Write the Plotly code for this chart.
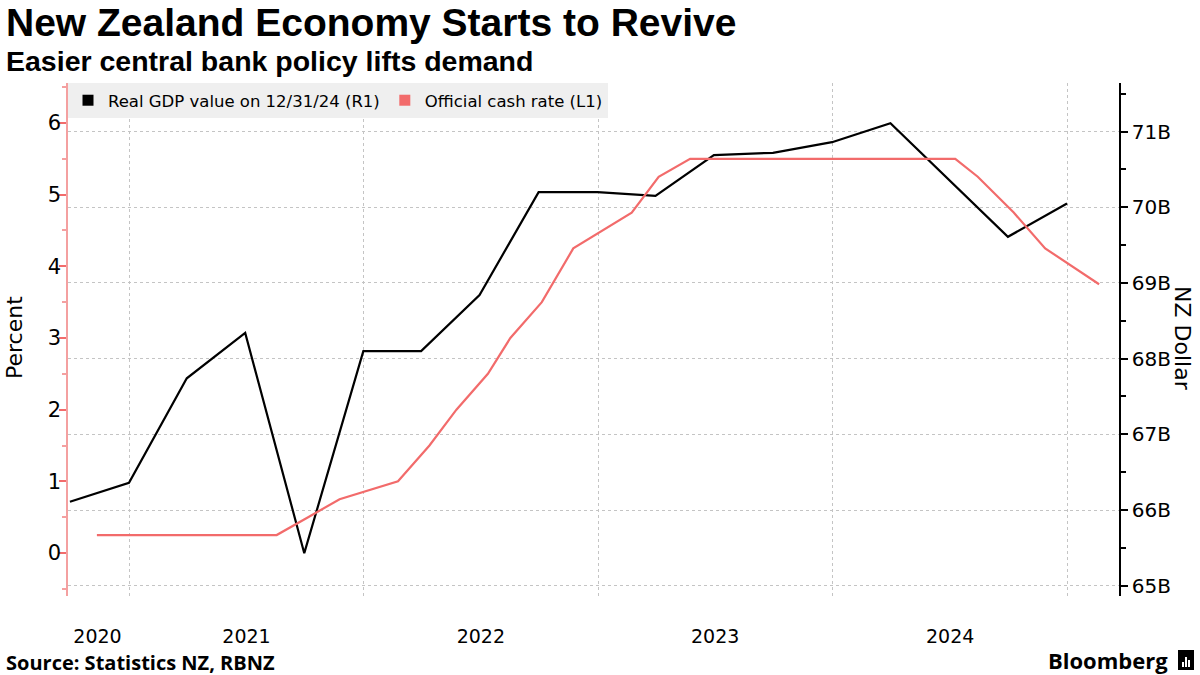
import plotly.graph_objects as go

# ---------------- data ----------------
gdp_dates = ["2020-09-30", "2020-12-31", "2021-03-31", "2021-06-30", "2021-09-30",
             "2021-12-31", "2022-03-31", "2022-06-30", "2022-09-30", "2022-12-31",
             "2023-03-31", "2023-06-30", "2023-09-30", "2023-12-31", "2024-03-31",
             "2024-06-30", "2024-09-30", "2024-12-31"]
gdp_values = [66.11, 66.36, 67.74, 68.34, 65.43, 68.10, 68.10, 68.84, 70.20, 70.20,
              70.15, 70.69, 70.72, 70.86, 71.11, 70.37, 69.61, 70.05]

ocr_dates = ["2020-11-11", "2021-02-24", "2021-04-14", "2021-05-26", "2021-07-14",
             "2021-08-18", "2021-10-06", "2021-11-24", "2022-02-23", "2022-04-13",
             "2022-05-25", "2022-07-13", "2022-08-17", "2022-10-05", "2022-11-23",
             "2023-02-22", "2023-04-05", "2023-05-24", "2023-07-12", "2023-08-16",
             "2023-10-04", "2023-11-29", "2024-02-28", "2024-04-10", "2024-05-22",
             "2024-07-10", "2024-08-14", "2024-10-09", "2024-11-27", "2025-02-19"]
ocr_values = [0.25, 0.25, 0.25, 0.25, 0.25, 0.25, 0.50, 0.75, 1.00, 1.50,
              2.00, 2.50, 3.00, 3.50, 4.25, 4.75, 5.25, 5.50, 5.50, 5.50,
              5.50, 5.50, 5.50, 5.50, 5.50, 5.50, 5.25, 4.75, 4.25, 3.75]

year_starts = ["2021-01-01", "2022-01-01", "2023-01-01", "2024-01-01", "2025-01-01"]
x_label_pos = ["2020-11-12", "2021-07-02", "2022-07-02", "2023-07-02", "2024-07-02"]
x_labels = ["2020", "2021", "2022", "2023", "2024"]

gdp_ticks = [65, 66, 67, 68, 69, 70, 71]
gdp_tick_text = ["65B", "66B", "67B", "68B", "69B", "70B", "71B"]
ocr_ticks = [0, 1, 2, 3, 4, 5, 6]
ocr_tick_text = ["0", "1", "2", "3", "4", "5", "6"]

gdp_name = "Real GDP value on 12/31/24 (R1)"
ocr_name = "Official cash rate (L1)"

title = "New Zealand Economy Starts to Revive"
subtitle = "Easier central bank policy lifts demand"
source = "Source: Statistics NZ, RBNZ"

# ---------------- style ----------------
BLACK = "#000000"
RED = "#f26b6b"
AXRED = "#f4a0a0"
GRID = "#c4c4c4"
FONT = "DejaVu Sans"
TFONT = "Open Sans"
HFONT = "Liberation Sans"

fig = go.Figure()

fig.add_trace(go.Scatter(x=gdp_dates, y=gdp_values, mode="lines", name=gdp_name,
                         line=dict(color=BLACK, width=2.2), yaxis="y", showlegend=False))
fig.add_trace(go.Scatter(x=ocr_dates, y=ocr_values, mode="lines", name=ocr_name,
                         line=dict(color=RED, width=2.2), yaxis="y2", showlegend=False))
# legend entries with square keys
fig.add_trace(go.Scatter(x=[None], y=[None], mode="markers", name=gdp_name,
                         marker=dict(symbol="square", size=11, color=BLACK), yaxis="y"))
fig.add_trace(go.Scatter(x=[None], y=[None], mode="markers", name=ocr_name,
                         marker=dict(symbol="square", size=11, color=RED), yaxis="y2"))

fig.update_layout(
    width=1200, height=675,
    margin=dict(l=68, r=81, t=83, b=79),
    paper_bgcolor="white", plot_bgcolor="white",
    font=dict(family=FONT, color="#000000", size=18),
    showlegend=True,
    legend=dict(orientation="h", x=0, y=1, xanchor="left", yanchor="top",
                bgcolor="#efefef", borderwidth=0, font=dict(size=16.5, family=FONT),
                itemwidth=30, tracegroupgap=0, itemclick=False),
    xaxis=dict(type="date", range=["2020-09-27", "2025-03-22"],
               tickmode="array", tickvals=x_label_pos, ticktext=x_labels,
               showgrid=False, ticks="", showline=False, zeroline=False,
               tickfont=dict(size=19, family=FONT), ticklabelstandoff=27,
               minor=dict(tickmode="array", tickvals=year_starts, showgrid=True,
                          gridcolor=GRID, griddash="dot", gridwidth=1, ticks="")),
    yaxis=dict(side="right", range=[64.864, 71.642], tickmode="array",
               tickvals=gdp_ticks, ticktext=gdp_tick_text,
               showgrid=True, gridcolor=GRID, griddash="dot", gridwidth=1,
               showline=True, linecolor=BLACK, linewidth=1.5,
               ticks="outside", ticklen=7, tickcolor=BLACK, tickwidth=1.5,
               minor=dict(dtick=0.5, ticks="outside", ticklen=5, tickcolor=BLACK, showgrid=False),
               tickfont=dict(size=20, family=FONT), zeroline=False),
    yaxis2=dict(side="left", overlaying="y", range=[-0.6, 6.558], tickmode="array",
                tickvals=ocr_ticks, ticktext=ocr_tick_text, showgrid=False,
                showline=True, linecolor=AXRED, linewidth=1.5,
                ticks="outside", ticklen=7, tickcolor=RED, tickwidth=2,
                minor=dict(dtick=0.5, ticks="outside", ticklen=4, tickcolor=AXRED, showgrid=False),
                tickfont=dict(size=21, family=FONT), zeroline=False, ticklabelstandoff=-6),
)

ph = 513.0
pw = 1051.0
def px_x(p):
    return (p - 68) / pw
def px_y(p):
    return (596 - p) / ph

anns = [
    dict(text="<b>%s</b>" % title, x=px_x(4), y=px_y(22.5),
         xanchor="left", yanchor="middle", font=dict(size=39, family=HFONT, color="#000")),
    dict(text="<b>%s</b>" % subtitle, x=px_x(4), y=px_y(60.6),
         xanchor="left", yanchor="middle", font=dict(size=28.5, family=HFONT, color="#000")),
    dict(text="<b>%s</b>" % source, x=px_x(4), y=px_y(662),
         xanchor="left", yanchor="middle", font=dict(size=20, family=TFONT, color="#000")),
    dict(text="<b>Bloomberg</b>", x=px_x(1170), y=px_y(660),
         xanchor="right", yanchor="middle", font=dict(size=22, family=TFONT, color="#000")),
    dict(text="Percent", x=px_x(14), y=px_y(338), textangle=-90,
         xanchor="center", yanchor="middle", font=dict(size=22, family=FONT, color="#000")),
    dict(text="NZ Dollar", x=px_x(1183), y=px_y(338), textangle=90,
         xanchor="center", yanchor="middle", font=dict(size=22, family=FONT, color="#000")),
]
for a in anns:
    a.update(xref="paper", yref="paper", showarrow=False)
    fig.add_annotation(**a)

# Bloomberg logo mark
fig.add_shape(type="rect", xref="paper", yref="paper",
              x0=px_x(1178), x1=px_x(1194), y0=px_y(670), y1=px_y(650),
              fillcolor="#000", line=dict(width=0))
for bx, top in [(1183, 662), (1186, 657), (1189, 660)]:
    fig.add_shape(type="line", xref="paper", yref="paper",
                  x0=px_x(bx), x1=px_x(bx), y0=px_y(667), y1=px_y(top),
                  line=dict(color="#fff", width=2))

fig.write_html("out.html", config={"displayModeBar": False},
               post_script="document.body.style.margin='0px';")
